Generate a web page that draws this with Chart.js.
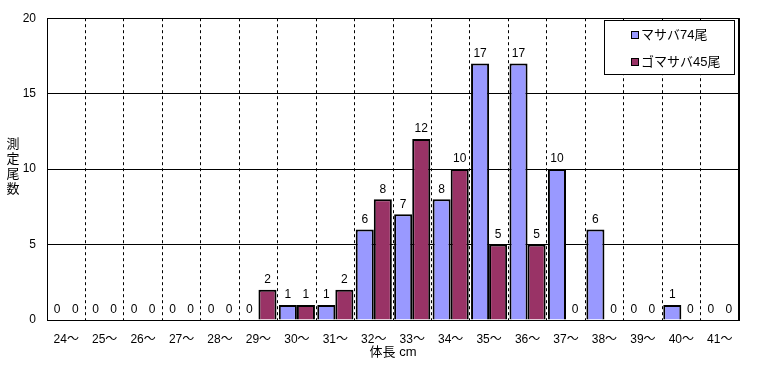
<!DOCTYPE html>
<html><head><meta charset="utf-8">
<script src="https://cdn.jsdelivr.net/npm/chart.js@4/dist/chart.umd.min.js"></script>
<style>html,body{margin:0;padding:0;background:#fff;}#wrap{width:760px;height:365px;}</style>
</head><body><div id="wrap"><canvas id="c" width="760" height="365"></canvas></div>
<script>
const categories = ['24～','25～','26～','27～','28～','29～','30～','31～','32～','33～','34～','35～','36～','37～','38～','39～','40～','41～'];
const masaba = [0,0,0,0,0,0,1,1,6,7,8,17,17,10,6,0,1,0];
const gomasaba = [0,0,0,0,0,2,1,2,8,12,10,5,5,0,0,0,0,0];
const seriesNames = ['マサバ74尾','ゴマサバ45尾'];
const yTicks = [0,5,10,15,20];
const yTitle = '測定尾数';
const xTitle = '体長 cm';

const FONT = "'Liberation Sans','Noto Sans CJK JP',sans-serif";
const colors = ['#9999FF','#993366'];

const extras = {
  id:'extras',
  beforeDatasetsDraw(chart){
    const {ctx, chartArea:a} = chart;
    ctx.save();
    ctx.strokeStyle='#000'; ctx.lineWidth=1; ctx.setLineDash([]);
    const L=Math.round(a.left), R=Math.round(a.right), T=Math.round(a.top), B=Math.round(a.bottom);
    ctx.beginPath();
    ctx.moveTo(L+0.5, T+0.5); ctx.lineTo(R-0.5, T+0.5);
    ctx.moveTo(R-0.5, T+0.5); ctx.lineTo(R-0.5, B+0.5);
    ctx.moveTo(R+0.5, T+0.5); ctx.lineTo(R+0.5, B+0.5);
    ctx.stroke();
    ctx.restore();
  },
  afterDatasetsDraw(chart){
    const {ctx, chartArea:a} = chart;
    ctx.save();
    ctx.setLineDash([]);
    ctx.font = '12px '+FONT;
    ctx.fillStyle='#000';
    ctx.textAlign='center'; ctx.textBaseline='bottom';
    chart.data.datasets.forEach((ds,i)=>{
      const meta = chart.getDatasetMeta(i);
      meta.data.forEach((bar,j)=>{
        ctx.fillText(String(ds.data[j]), bar.x, bar.y-4);
      });
    });
    ctx.textBaseline='middle';
    ctx.font = '13px '+FONT;
    Array.from(yTitle).forEach((ch,k)=>{ ctx.fillText(ch, 13, 144 + k*15); });
    ctx.fillText(xTitle, (a.left+a.right)/2, 352);
    const lx=604, ly=20, lw=130, lh=54;
    ctx.fillStyle='#fff'; ctx.fillRect(lx,ly,lw,lh);
    ctx.strokeStyle='#000'; ctx.lineWidth=1;
    ctx.strokeRect(lx+0.5,ly+0.5,lw,lh);
    ctx.textAlign='left';
    seriesNames.forEach((n,i)=>{
      const cy = 35 + i*27;
      ctx.fillStyle=colors[i];
      ctx.fillRect(631.5, cy-3.5, 7, 7);
      ctx.strokeRect(631.5, cy-3.5, 7, 7);
      ctx.fillStyle='#000';
      ctx.fillText(n, 641, cy);
    });
    ctx.restore();
  }
};

new Chart(document.getElementById('c'), {
  type:'bar',
  data:{
    labels: categories,
    datasets:[
      {label:seriesNames[0], data:masaba, backgroundColor:colors[0], borderColor:'#000', borderWidth:2, categoryPercentage:0.94, barPercentage:1},
      {label:seriesNames[1], data:gomasaba, backgroundColor:colors[1], borderColor:'#000', borderWidth:2, categoryPercentage:0.94, barPercentage:1}
    ]
  },
  options:{
    responsive:false, animation:false, devicePixelRatio:1,
    layout:{padding:{top:15,right:21,left:0,bottom:0}},
    plugins:{legend:{display:false}, tooltip:{enabled:false}},
    scales:{
      x:{
        afterFit(s){ s.height=45; },
        grid:{color:'#000', lineWidth:1, drawTicks:false, offset:true},
        border:{color:'#000', width:1, dash:[3,3]},
        ticks:{color:'#000', font:{family:FONT, size:12}, padding:12, maxRotation:0, autoSkip:false}
      },
      y:{
        min:0, max:20,
        afterFit(s){ s.width=47; },
        afterBuildTicks(s){ s.ticks = yTicks.map(v=>({value:v})); },
        grid:{color:'#000', lineWidth:1, drawTicks:false},
        border:{color:'#000', width:1},
        ticks:{color:'#000', font:{family:FONT, size:12}, padding:11}
      }
    }
  },
  plugins:[extras]
});
</script></body></html>
